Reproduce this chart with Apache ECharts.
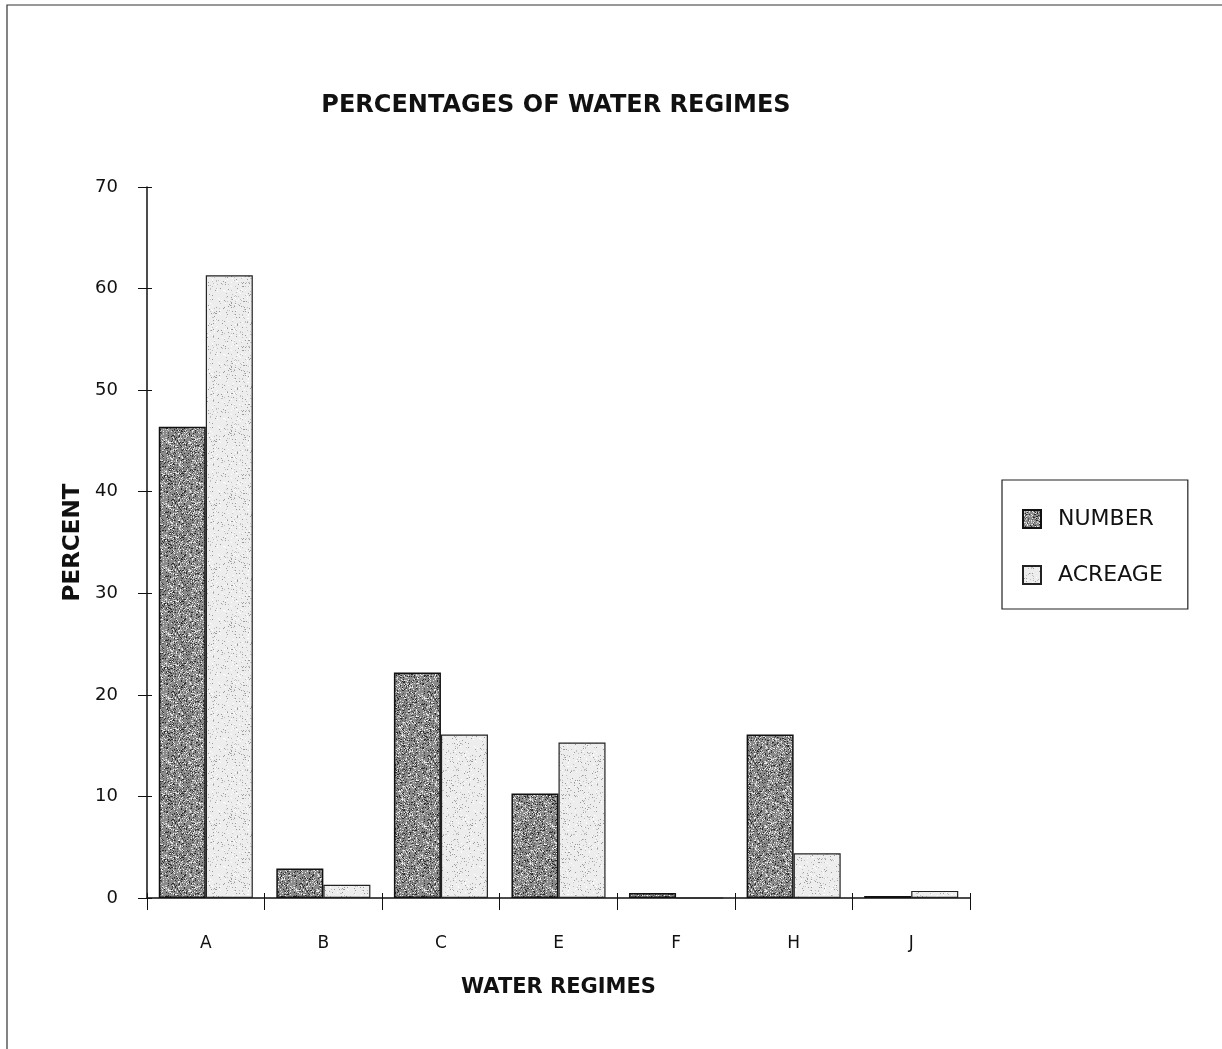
<!DOCTYPE html>
<html><head><meta charset="utf-8">
<script src="https://cdn.jsdelivr.net/npm/echarts@6/dist/echarts.min.js"></script>
<style>html,body{margin:0;padding:0;background:#fff}#c{width:1222px;height:1049px}</style>
</head><body><div id="c"></div>
<script>
const categories = ['A','B','C','E','F','H','J'];
const numberValues = [46.4, 2.9, 22.2, 10.3, 0.5, 16.1, 0.2];
const acreageValues = [61.3, 1.3, 16.1, 15.3, 0, 4.4, 0.7];
const yTicks = [0,10,20,30,40,50,60,70];

function makePattern(base, speck, density, seed){
  const c = document.createElement('canvas');
  c.width = 64; c.height = 64;
  const g = c.getContext('2d');
  g.fillStyle = base; g.fillRect(0,0,64,64);
  let s = seed;
  function rnd(){ s = (s*1103515245 + 12345) & 0x7fffffff; return s/0x7fffffff; }
  for(let i=0;i<64*64*density;i++){
    const x = Math.floor(rnd()*64), y = Math.floor(rnd()*64);
    g.fillStyle = speck[Math.floor(rnd()*speck.length)];
    g.fillRect(x,y,1,1);
  }
  return c;
}
const darkPat = makePattern('#8a8a8a', ['#2a2a2a','#555','#c8c8c8','#eee'], 0.45, 7);
const lightPat = makePattern('#ededed', ['#9a9a9a','#c0c0c0','#fff'], 0.12, 11);

const chart = echarts.init(document.getElementById('c'));
const font = 'DejaVu Sans, Verdana, sans-serif';
chart.setOption({
  animation:false,
  backgroundColor:'#fff',
  title:{ text:'PERCENTAGES OF WATER REGIMES', left:551, top:89, textAlign:'center',
    textStyle:{ fontFamily:font, fontSize:24, fontWeight:'bold', color:'#111' } },
  graphic:[{ type:'rect', shape:{x:7,y:5,width:1230,height:1060}, style:{fill:'none', stroke:'#333', lineWidth:1.2}, silent:true }],
  legend:{ orient:'vertical', left:1002, top:480, padding:[28,25,23,20],
    itemGap:34, itemWidth:18, itemHeight:18, borderColor:'#222', borderWidth:1.2,
    textStyle:{ fontFamily:font, fontSize:22, color:'#111', padding:[0,0,0,12] },
    data:[{name:'NUMBER', icon:'rect'},{name:'ACREAGE', icon:'rect'}] },
  grid:{ left:147, right:252, top:187, bottom:151, containLabel:false },
  xAxis:[{ type:'category', data:categories, name:'WATER REGIMES', nameLocation:'middle', nameGap:79,
    nameTextStyle:{ fontFamily:font, fontSize:21, fontWeight:'bold', color:'#111' },
    axisLine:{ lineStyle:{ color:'#111', width:1.5 } },
    axisTick:{ show:true, length:12, alignWithLabel:false, lineStyle:{ color:'#111' } },
    axisLabel:{ fontFamily:font, fontSize:17, color:'#111', margin:37 } },
    { type:'category', data:categories, position:'bottom', offset:0,
      axisLine:{ show:false }, axisLabel:{ show:false },
      axisTick:{ show:true, inside:true, length:5, alignWithLabel:false, lineStyle:{ color:'#111' } } }],
  yAxis:[{ type:'value', min:0, max:70, interval:10, name:'PERCENT', nameLocation:'middle', nameGap:59,
    nameTextStyle:{ fontFamily:font, fontSize:23, fontWeight:'bold', color:'#111' },
    axisLine:{ show:true, lineStyle:{ color:'#111', width:1.5 } },
    axisTick:{ show:true, length:9, lineStyle:{ color:'#111' } },
    splitLine:{ show:false },
    axisLabel:{ fontFamily:font, fontSize:18, color:'#111', margin:29,
      formatter:v => yTicks.includes(v) ? String(v) : '' } },
    { type:'value', min:0, max:70, interval:10, position:'left', offset:0,
      axisLine:{ show:false }, axisLabel:{ show:false }, splitLine:{ show:false },
      axisTick:{ show:true, inside:true, length:5, lineStyle:{ color:'#111' } } }],
  series:[
    { name:'NUMBER', type:'bar', data:numberValues, barGap:'0%', barCategoryGap:'20%',
      itemStyle:{ color:{image:darkPat, repeat:'repeat'}, borderColor:'#111', borderWidth:1.5 } },
    { name:'ACREAGE', type:'bar', data:acreageValues,
      itemStyle:{ color:{image:lightPat, repeat:'repeat'}, borderColor:'#222', borderWidth:1.2 } }
  ]
});
</script></body></html>
